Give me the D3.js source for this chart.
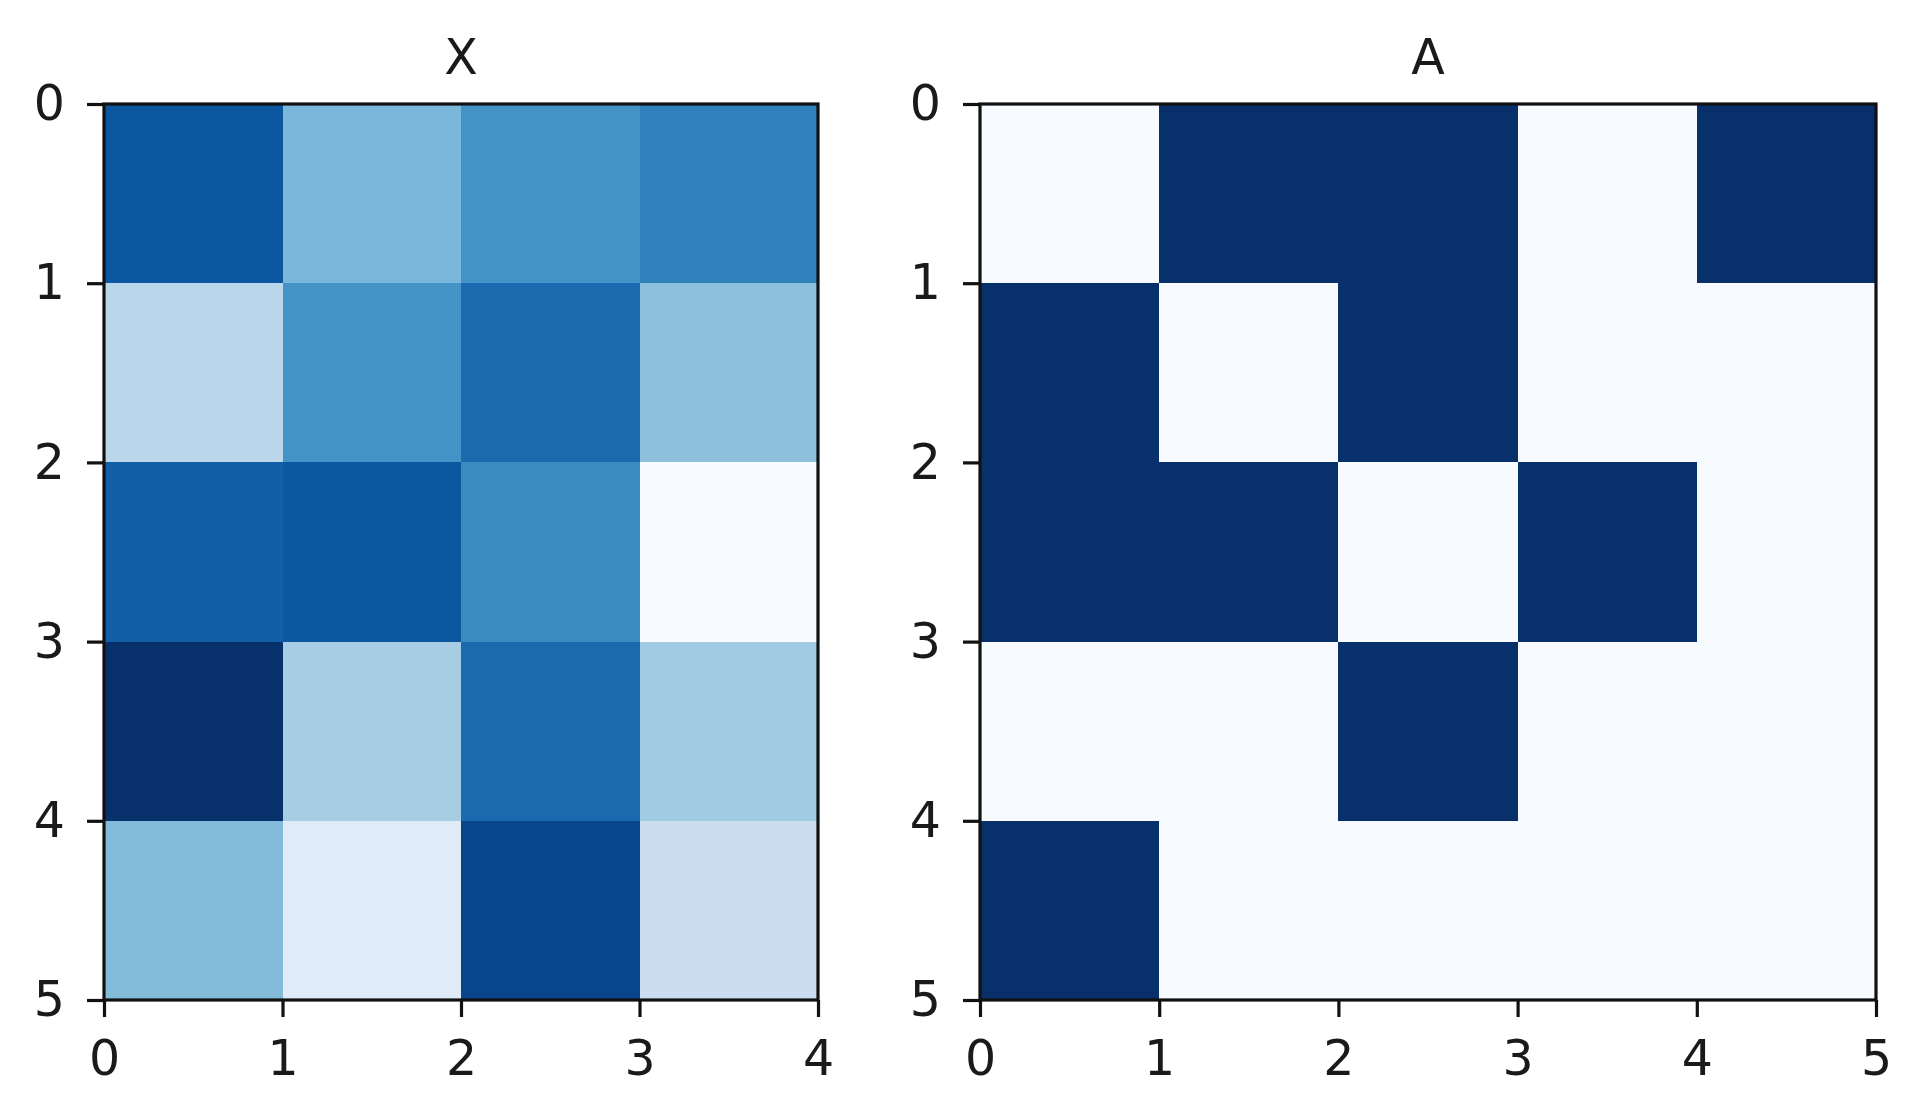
<!DOCTYPE html>
<html>
<head>
<meta charset="utf-8">
<script src="https://cdn.jsdelivr.net/npm/d3@7"></script>
<style>
  html, body { margin: 0; padding: 0; background: #fff; }
  svg { display: block; }
  text { font-family: "DejaVu Sans", sans-serif; fill: #1a1a1a; }
</style>
</head>
<body>
<svg id="chart" width="1920" height="1119"></svg>
<script>
// ---- data ----
const xTitle = "X";
const aTitle = "A";
const xRows = [0, 1, 2, 3, 4];
const xCols = [0, 1, 2, 3];
const xRow0 = [0.85, 0.46, 0.62, 0.69];
const xRow1 = [0.29, 0.62, 0.78, 0.42];
const xRow2 = [0.82, 0.85, 0.65, 0.00];
const xRow3 = [1.00, 0.35, 0.78, 0.37];
const xRow4 = [0.44, 0.12, 0.92, 0.23];
const xValues = [xRow0, xRow1, xRow2, xRow3, xRow4];

const aRows = [0, 1, 2, 3, 4];
const aCols = [0, 1, 2, 3, 4];
const aRow0 = [0, 1, 1, 0, 1];
const aRow1 = [1, 0, 1, 0, 0];
const aRow2 = [1, 1, 0, 1, 0];
const aRow3 = [0, 0, 1, 0, 0];
const aRow4 = [1, 0, 0, 0, 0];
const aValues = [aRow0, aRow1, aRow2, aRow3, aRow4];

const xTicksX = [0, 1, 2, 3, 4];
const xTicksY = [0, 1, 2, 3, 4, 5];
const aTicksX = [0, 1, 2, 3, 4, 5];
const aTicksY = [0, 1, 2, 3, 4, 5];

// matplotlib "Blues" colormap stops
const bluesStops = ["#f7fbff", "#deebf7", "#c6dbef", "#9ecae1", "#6baed6", "#4292c6", "#2171b5", "#08519c", "#08306b"];

// ---- drawing ----
const svg = d3.select("#chart");
const FONT = 49;
const TICK = 17;
const LW = 3.2;

function blues(vals) {
  const flat = vals.flat();
  const mn = d3.min(flat), mx = d3.max(flat);
  const norm = d3.scaleLinear().domain([mn, mx]).range([0, 1]);
  const cm = d3.scaleLinear()
    .domain(d3.range(bluesStops.length).map(i => i / (bluesStops.length - 1)))
    .range(bluesStops)
    .interpolate(d3.interpolateRgb);
  return v => cm(norm(v));
}

function panel(cfg) {
  const { title, values, rows, cols, ticksX, ticksY, x0, x1, y0, y1 } = cfg;
  const xs = d3.scaleLinear().domain([0, cols.length]).range([x0, x1]);
  const ys = d3.scaleLinear().domain([0, rows.length]).range([y0, y1]);
  const color = blues(values);
  const g = svg.append("g");

  const cells = [];
  rows.forEach(r => cols.forEach(c => cells.push({ r, c, v: values[r][c] })));
  g.selectAll("rect.cell").data(cells).join("rect")
    .attr("class", "cell")
    .attr("x", d => xs(d.c))
    .attr("y", d => ys(d.r))
    .attr("width", d => xs(d.c + 1) - xs(d.c) + 0.5)
    .attr("height", d => ys(d.r + 1) - ys(d.r) + 0.5)
    .attr("fill", d => color(d.v))
    .attr("shape-rendering", "crispEdges");

  // frame
  g.append("rect")
    .attr("x", xs(0)).attr("y", ys(0))
    .attr("width", xs(cols.length) - xs(0))
    .attr("height", ys(rows.length) - ys(0))
    .attr("fill", "none").attr("stroke", "#111").attr("stroke-width", LW);

  const xAxis = d3.axisBottom(xs).tickValues(ticksX).tickSize(TICK).tickPadding(23).tickFormat(d3.format("d"));
  const yAxis = d3.axisLeft(ys).tickValues(ticksY).tickSize(TICK).tickPadding(22).tickFormat(d3.format("d"));

  const gx = g.append("g").attr("transform", `translate(0,${ys(rows.length)})`).call(xAxis);
  const gy = g.append("g").attr("transform", `translate(${xs(0)},0)`).call(yAxis);
  [gx, gy].forEach(a => {
    a.select(".domain").remove();
    a.selectAll(".tick line").attr("stroke", "#111").attr("stroke-width", LW);
    a.selectAll(".tick text").attr("font-size", FONT).attr("font-family", "DejaVu Sans").attr("fill", "#1a1a1a");
  });

  g.append("text")
    .attr("x", (xs(0) + xs(cols.length)) / 2)
    .attr("y", y0 - 30)
    .attr("text-anchor", "middle")
    .attr("font-size", FONT)
    .text(title);
}

panel({ title: xTitle, values: xValues, rows: xRows, cols: xCols, ticksX: xTicksX, ticksY: xTicksY,
        x0: 104, x1: 818, y0: 104, y1: 1000 });
panel({ title: aTitle, values: aValues, rows: aRows, cols: aCols, ticksX: aTicksX, ticksY: aTicksY,
        x0: 980, x1: 1876, y0: 104, y1: 1000 });
</script>
</body>
</html>
